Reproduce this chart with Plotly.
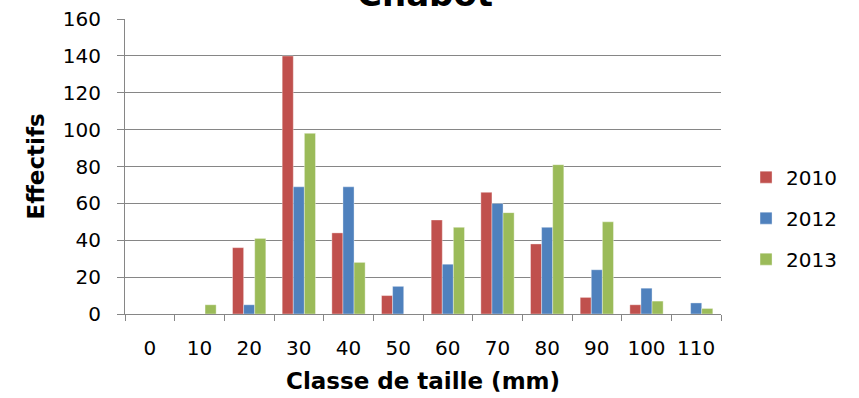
import plotly.graph_objects as go

categories = ["0", "10", "20", "30", "40", "50", "60", "70", "80", "90", "100", "110"]
v2010 = [0, 0, 36, 140, 44, 10, 51, 66, 38, 9, 5, 0]
v2012 = [0, 0, 5, 69, 69, 15, 27, 60, 47, 24, 14, 6]
v2013 = [0, 5, 41, 98, 28, 0, 47, 55, 81, 50, 7, 3]
series_names = ["2010", "2012", "2013"]
colors = ["#C0504D", "#4F81BD", "#9BBB59"]

FONT = "DejaVu Sans"
fig = go.Figure()
for name, vals, col in zip(series_names, [v2010, v2012, v2013], colors):
    fig.add_trace(go.Bar(x=categories, y=vals, name=name, legendgroup=name,
                         marker=dict(color=col, line=dict(width=0.6, color="rgba(255,255,255,0.6)"))))

fig.update_layout(
    width=859, height=398,
    margin=dict(l=125, r=138, t=19, b=84, autoexpand=False),
    paper_bgcolor="white", plot_bgcolor="white",
    barmode="group", bargap=0.33, bargroupgap=0,
    font=dict(family=FONT, size=20, color="black"),
    showlegend=True,
    legend=dict(x=1.042, y=0.325, xanchor="left", yanchor="middle",
                font=dict(size=20), tracegroupgap=12, itemwidth=30,
                bgcolor="rgba(0,0,0,0)"),
    annotations=[
        dict(text="<b>Chabot</b>", x=0.503, xref="paper", y=1.010, yref="paper",
             xanchor="center", yanchor="bottom", showarrow=False,
             font=dict(family=FONT, size=34, color="black")),
        dict(text="<b>Classe de taille (mm)</b>", x=0.5, xref="paper", y=-0.227, yref="paper",
             xanchor="center", yanchor="middle", showarrow=False,
             font=dict(family=FONT, size=23, color="black")),
        dict(text="<b>Effectifs</b>", x=-0.151, xref="paper", y=0.5, yref="paper",
             xanchor="center", yanchor="middle", showarrow=False, textangle=-90,
             font=dict(family=FONT, size=23, color="black")),
    ],
)
fig.update_xaxes(type="category", showline=True, linecolor="#868686", linewidth=1,
                 ticks="outside", ticklen=6, tickcolor="#868686", tickson="boundaries",
                 showgrid=False, ticklabelstandoff=16, automargin=False,
                 tickfont=dict(size=20))
fig.update_yaxes(range=[0, 160.05], dtick=20, showline=True, linecolor="#868686", linewidth=1,
                 ticks="outside", ticklen=7, tickcolor="#868686",
                 showgrid=True, gridcolor="#868686", gridwidth=1, zeroline=False,
                 ticklabelstandoff=12, ticklabeloverflow="allow", automargin=False,
                 tickfont=dict(size=20))

fig.write_html("out.html", config={"displayModeBar": False},
               post_script="document.body.style.margin='0';")
